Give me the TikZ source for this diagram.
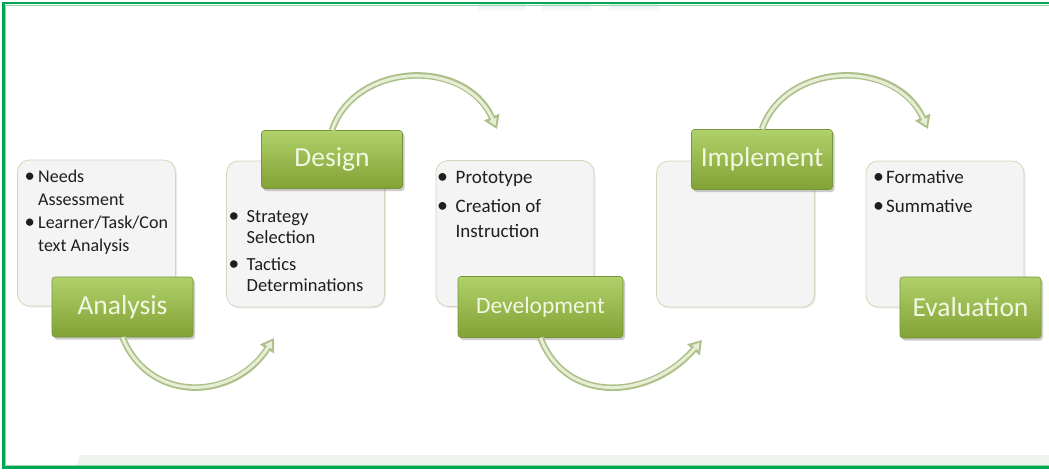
\documentclass[tikz,border=0pt]{standalone}
\usepackage{fontspec}
\usepackage{graphicx}
\setmainfont{Carlito}
\usetikzlibrary{arrows.meta,shadows}

\definecolor{framegreen}{HTML}{00A651}
\definecolor{framelight}{HTML}{8FD9AC}
\definecolor{boxfill}{HTML}{F4F4F4}
\definecolor{boxline}{HTML}{D3D6B8}
\definecolor{labtop}{HTML}{B0D06A}
\definecolor{labmid}{HTML}{9DC04E}
\definecolor{labbot}{HTML}{82A236}
\definecolor{labline}{HTML}{76943A}
\definecolor{labtext}{HTML}{F2F7E2}
\definecolor{arrowedge}{HTML}{AEC08A}
\definecolor{arrowfill}{HTML}{E6EED6}
\definecolor{bodytext}{HTML}{1E1E1E}
\definecolor{bandgray}{HTML}{EEF3F0}
\definecolor{smudge}{HTML}{E8EFF5}

\newcommand{\bl}[1]{\makebox[#1][l]{\scalebox{1.15}{\textbullet}}}

\begin{document}
\begin{tikzpicture}[x=1pt, y=-1pt,
    textbox/.style={draw=boxline, line width=0.8pt, fill=boxfill, rounded corners=12pt,
      minimum width=158pt, minimum height=146pt, inner sep=0pt,
      drop shadow={opacity=0.15, shadow xshift=1.5pt, shadow yshift=-1.5pt}},
    phase/.style={draw=labline, line width=0.6pt, rounded corners=3pt,
      top color=labtop, middle color=labmid, bottom color=labbot,
      text=labtext, font=\fontsize{27.5}{30}\selectfont, inner sep=0pt,
      minimum width=141pt, minimum height=60pt,
      drop shadow={opacity=0.4, shadow xshift=2pt, shadow yshift=-2.5pt}},
    bullets/.style={anchor=base west, inner sep=0pt, text=bodytext, align=left},
    flow/.style={line width=3pt, draw=arrowfill, shorten >=3.5pt,
      -{Triangle[length=7pt,width=8pt]},
      preaction={draw=arrowedge, line width=6.5pt, shorten >=0pt,
        -{Triangle[length=13pt,width=16pt]}}}
  ]
  \useasboundingbox (0,0) rectangle (1049,471);

  % faint marks on the edges
  \fill[bandgray] (80,455) -- (1049,455) -- (1049,466) -- (77,466) -- cycle;
  \shade[top color=smudge, bottom color=white] (478,4) rectangle (525,12);
  \shade[top color=smudge, bottom color=white] (542,4) rectangle (591,12);
  \shade[top color=smudge, bottom color=white] (609,4) rectangle (659,12);

  % frame
  \draw[framegreen, line width=2.4pt] (3.3,3) rectangle (1053,467.5);
  \draw[framelight, line width=0.7pt] (5.2,4.9) rectangle (1051,465.6);

  % text boxes
  \node[textbox] (anabox) at (96.5,233) {};
  \node[textbox] (desbox) at (305.5,234) {};
  \node[textbox] (devbox) at (515,233.5) {};
  \node[textbox] (impbox) at (735.5,234) {};
  \node[textbox] (evabox) at (945,234) {};

  \node[bullets, font=\fontsize{18}{23}\selectfont] (anatext) at (24.5,182)
    {\begin{tabular}[t]{@{}l@{}}\bl{13.5pt}Needs\\ \hspace*{13.5pt}Assessment\\
     \bl{13.5pt}Learner/Task/Con\\ \hspace*{13.5pt}text Analysis\end{tabular}};
  \node[bullets, font=\fontsize{18.5}{21}\selectfont] (destext) at (228.5,222)
    {\begin{tabular}[t]{@{}l@{}}\bl{18pt}Strategy\\ \hspace*{18pt}Selection\\[6pt]
     \bl{18pt}Tactics\\ \hspace*{18pt}Determinations\end{tabular}};
  \node[bullets, font=\fontsize{19}{25}\selectfont] (devtext) at (437,183)
    {\begin{tabular}[t]{@{}l@{}}\bl{18.5pt}Prototype\\[4pt]
     \bl{18.5pt}Creation of\\ \hspace*{18.5pt}Instruction\end{tabular}};
  \node[bullets, font=\fontsize{19}{29}\selectfont] (evatext) at (873,183)
    {\begin{tabular}[t]{@{}l@{}}\bl{13pt}Formative\\ \bl{13pt}Summative\end{tabular}};

  % phase labels
  \node[phase] (ana) at (122.5,307) {Analysis};
  \node[phase, minimum height=58pt] (des) at (332,159.5) {Design};
  \node[phase, minimum width=165pt, minimum height=61pt,
    font=\fontsize{23.5}{26}\selectfont] (dev) at (540.5,307) {Development};
  \node[phase] (imp) at (762,159.5) {Implement};
  \node[phase, minimum height=61pt] (eva) at (970.5,307.5) {Evaluation};

  % curved arrows
  \coordinate (anaend) at (274,338);
  \coordinate (desend) at (497,129);
  \coordinate (devend) at (702,340);
  \coordinate (impend) at (928,129);
  \draw[flow] (ana.south) .. controls (150,405) and (235,400) .. (anaend);
  \draw[flow] (des.north) .. controls (355,62) and (465,57) .. (desend);
  \draw[flow] (dev.south) .. controls (566,405) and (650,400) .. (devend);
  \draw[flow] (imp.north) .. controls (785,62) and (895,57) .. (impend);
\end{tikzpicture}
\end{document}
